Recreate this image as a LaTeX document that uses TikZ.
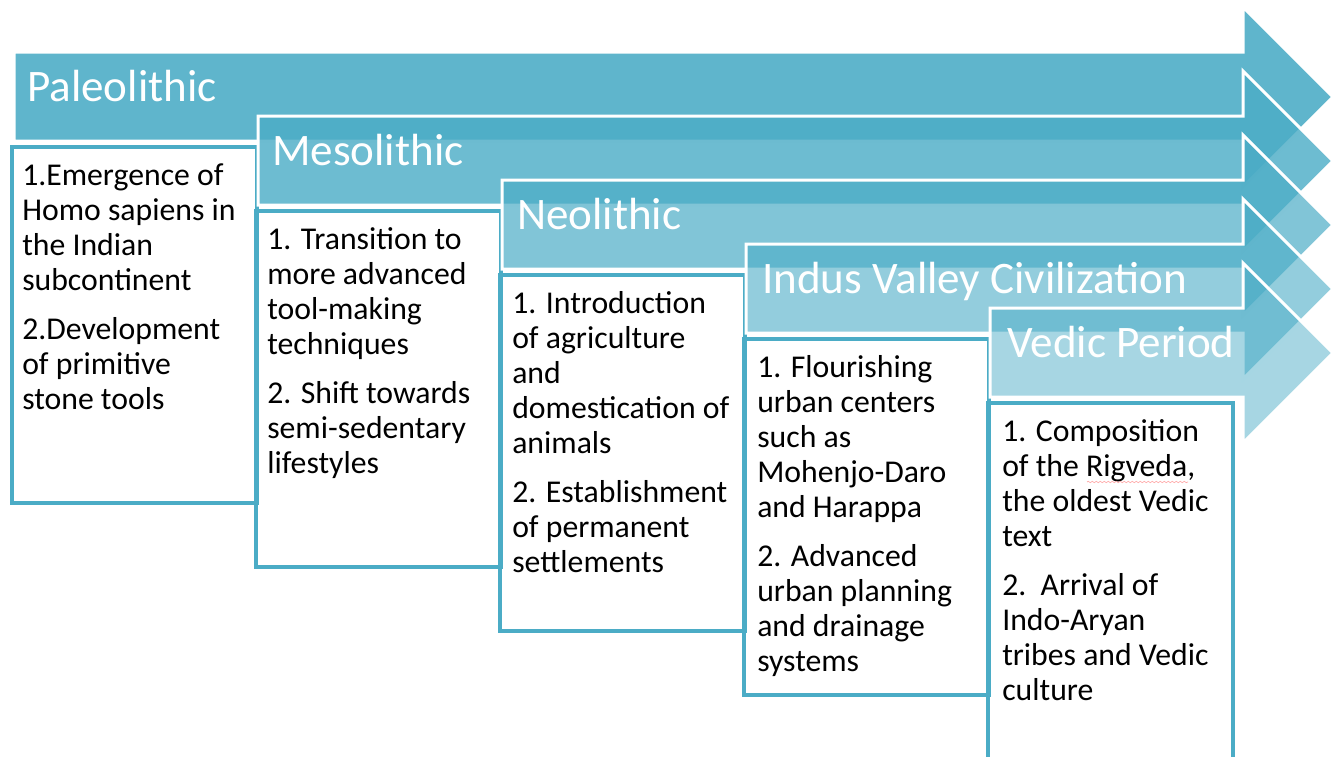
\documentclass[tikz,border=0pt]{standalone}
\usepackage{fontspec}
\setmainfont{Carlito}
\usepackage{tikz}
\usetikzlibrary{
  positioning,
  decorations.pathmorphing
}

\definecolor{periodblue}{RGB}{75,172,198}

\begin{document}
\begin{tikzpicture}[
      x=0.75pt,y=-0.75pt,
      period arrow/.style={
         fill=periodblue,
         draw=white,
         line width=2.25pt,
         line join=miter
      },
      period box/.style={
         draw=periodblue,
         line width=3.7pt
      },
      period title/.style={
         anchor=base west,
         inner sep=0pt,
         text=white,
         font=\fontsize{33.8pt}{40pt}\selectfont
      },
      % top of the first strut sits 24.5 units above its baseline
      item list/.style={
         anchor=north west,
         inner sep=0pt,
         align=left,
         font=\fontsize{23.8pt}{26.25pt}\selectfont,
         execute at begin node=\strut
      },
      spell wave/.style={
         draw=red!35,
         line width=0.5pt,
         decorate,
         decoration={snake,amplitude=0.5pt,segment length=3pt}
      }
    ]
    \useasboundingbox (0,0) rectangle (1340,757);
    % staircase of arrows, each with its box underneath
    \foreach \i/\op in {0/0.89,1/0.81,2/0.70,3/0.60,4/0.49}{
      \filldraw[period arrow, fill opacity=\op]
        (14+244*\i,52+64*\i) -- (1243,52+64*\i) -- (1243,7+64*\i)
        -- (1333,97+64*\i) -- (1243,187+64*\i) -- (1243,141+64*\i)
        -- (14+244*\i,141+64*\i) -- cycle;
      \draw[period box] (12+244*\i,147+64*\i) rectangle (257+244*\i,503+64*\i);
    }
    % titles
    \node[period title] (paleo) at (27,101) {Paleolithic};
    \node[period title] (meso) at (272,165) {Mesolithic};
    \node[period title] (neo) at (517,229) {Neolithic};
    \node[period title] (indus) at (762,293) {Indus Valley Civilization};
    \node[period title] (vedic) at (1007,357) {Vedic Period};
    % items
    \node[item list] (paleo items) at (22,163.5)
      {1.Emergence of\\Homo sapiens in\\the Indian\\subcontinent\\[10.5pt]2.Development\\of primitive\\stone tools};
    \node[item list] (meso items) at (267,227)
      {1. Transition to\\more advanced\\tool-making\\techniques\\[10.5pt]2. Shift towards\\semi-sedentary\\lifestyles};
    \node[item list] (neo items) at (512,291.5)
      {1. Introduction\\of agriculture\\and\\domestication of\\animals\\[10.5pt]2. Establishment\\of permanent\\settlements};
    \node[item list] (indus items) at (757,355.5)
      {1. Flourishing\\urban centers\\such as\\Mohenjo-Daro\\and Harappa\\[10.5pt]2. Advanced\\urban planning\\and drainage\\systems};
    \node[item list] (vedic items) at (1002,419.5)
      {1. Composition\\of the Rigveda,\\the oldest Vedic\\text\\[10.5pt]2.\ \ Arrival of\\Indo-Aryan\\tribes and Vedic\\culture};
    % squiggle under Rigveda
    \coordinate (rig a) at (1087,482);
    \coordinate (rig b) at (1188,482);
    \draw[spell wave] (rig a) -- (rig b);
\end{tikzpicture}
\end{document}
